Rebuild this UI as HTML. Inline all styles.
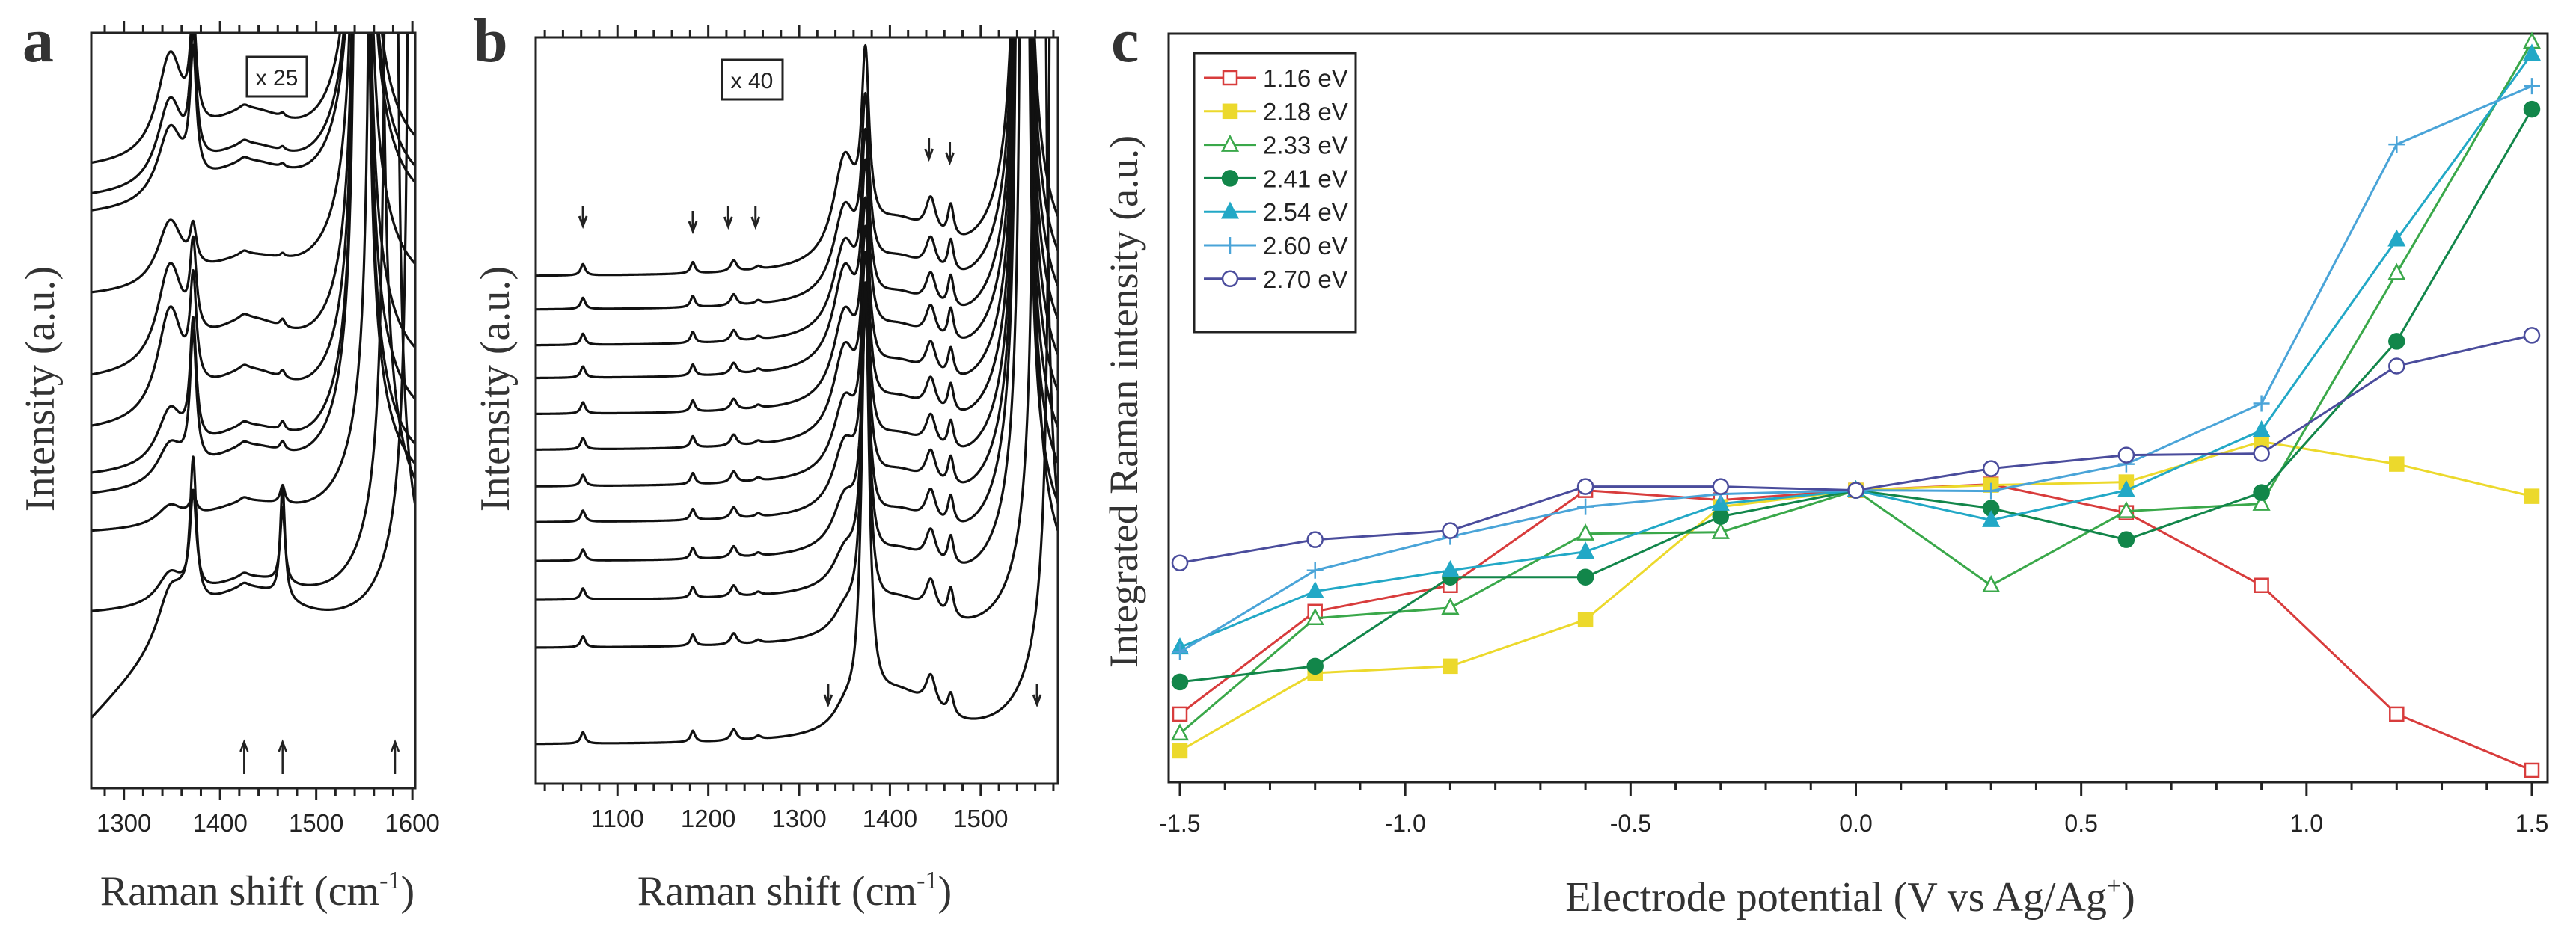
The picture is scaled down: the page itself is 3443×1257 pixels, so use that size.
<!DOCTYPE html>
<html><head><meta charset="utf-8"><style>
html,body{margin:0;padding:0;background:#fff;}
svg{display:block;}
.t{font-family:"Liberation Serif",serif;fill:#333;}
.s{font-family:"Liberation Sans",sans-serif;fill:#222;}
</style></head><body>
<svg id="fig" width="3443" height="1257" viewBox="0 0 3443 1257" xmlns="http://www.w3.org/2000/svg">
<text class="t" x="30" y="82" font-size="84" font-weight="bold" fill="#111">a</text>
<text class="t" x="632" y="82" font-size="84" font-weight="bold" fill="#111">b</text>
<text class="t" x="1485" y="82" font-size="84" font-weight="bold" fill="#111">c</text>
<text class="t" transform="translate(72,520) rotate(-90)" text-anchor="middle" font-size="56">Intensity (a.u.)</text>
<text class="t" transform="translate(680,520) rotate(-90)" text-anchor="middle" font-size="56">Intensity (a.u.)</text>
<text class="t" transform="translate(1520,537) rotate(-90)" text-anchor="middle" font-size="54">Integrated Raman intensity (a.u.)</text>
<text class="t" x="344" y="1210" text-anchor="middle" font-size="56">Raman shift (cm<tspan font-size="34" dy="-22">-1</tspan><tspan dy="22">)</tspan></text>
<text class="t" x="1062" y="1210" text-anchor="middle" font-size="56">Raman shift (cm<tspan font-size="34" dy="-22">-1</tspan><tspan dy="22">)</tspan></text>
<text class="t" x="2473" y="1218" text-anchor="middle" font-size="56">Electrode potential (V vs Ag/Ag<tspan font-size="34" dy="-22">+</tspan><tspan dy="22">)</tspan></text>
<g id="ga"></g><g id="gb"></g><g id="gc"></g>
</svg>
<script>
// ---------- Panel c data ----------
const potentials = [-1.5,-1.2,-0.9,-0.6,-0.3,0,0.3,0.6,0.9,1.2,1.5];
const seriesNames = ["1.16 eV","2.18 eV","2.33 eV","2.41 eV","2.54 eV","2.60 eV","2.70 eV"];
const s116 = [9.1,22.8,26.3,39.0,37.7,39.0,39.8,36.0,26.3,9.1,1.6];
const s218 = [4.2,14.6,15.5,21.7,36.8,39.0,39.7,40.1,45.5,42.5,38.2];
const s233 = [6.5,21.9,23.3,33.2,33.4,39.0,26.3,36.2,37.2,68.0,98.9];
const s241 = [13.4,15.5,27.4,27.4,35.5,39.0,36.6,32.4,38.7,58.9,89.9];
const s254 = [18.0,25.5,28.3,30.8,37.2,39.0,35.0,39.0,47.0,72.5,97.3];
const s260 = [17.4,28.3,32.8,36.8,38.5,39.0,38.9,42.5,50.6,85.2,93.0];
const s270 = [29.3,32.4,33.6,39.5,39.5,39.0,41.9,43.7,43.9,55.6,59.7];
const cTicks = [-1.5,-1.0,-0.5,0.0,0.5,1.0,1.5];
const cTickLabels = ["-1.5","-1.0","-0.5","0.0","0.5","1.0","1.5"];

// ---------- Panel a data (per-trace peak parameters, a.u.) ----------
const aOffset = [81.3,77.4,75.2,64.6,53.2,46.4,40.6,38.0,33.4,22.6,8.2];
const aBroad  = [13,11,9.5,8.5,13,14,7,5,2.5,4,6];
const aSharp  = [14,16,16.5,5,11.5,13.5,16,17.5,2.5,13,19];
const aPlateau= [7,6.3,6.3,4.6,7.4,7.4,6,6,3.6,4.4,6.2];
const a1465   = [0.5,0.5,0.5,0.5,1.0,1.0,1.2,1.2,2.4,10,15];
const aEdge   = [1547,1547,1547,1547,1547,1547,1547,1547,1562,1578,1602];
const aTicks = [1300,1400,1500,1600];

// ---------- Panel b data ----------
const bOffset = [67.9,63.4,58.6,54.2,49.4,44.6,39.7,34.9,29.7,24.5,18.1,5.2];
const bBroad  = [13,11,11,12,11,11,9,8,6,4,2.5,2];
const bSharp  = [23,22,22,22,22,23,25,26,28,34,42,57];
const bPlateau= [6,5.5,5.5,5.5,5.5,5.5,5.5,5.5,5.5,5.5,5.5,6];
const b1445   = [5,4.5,4.5,4.5,4.5,4.5,4.5,4.5,4.5,4.5,4.5,4.5];
const b1467   = [4.5,4.5,4.5,4.5,4,4,4,4,4,4,4,3];
const bEdge   = [1546,1546,1546,1546,1546,1546,1546,1546,1546,1550,1565,1582];
const bSmall  = [1.5,1.5,1.5,1.5,1.5,1.5,1.5,1.5,1.5,1.5,1.5,1.5];
const bTicks = [1100,1200,1300,1400,1500];

const NS="http://www.w3.org/2000/svg";
function mk(tag,parent,attrs){const e=document.createElementNS(NS,tag);for(const k in attrs)e.setAttribute(k,attrs[k]);parent.appendChild(e);return e;}
function lor(x,c,w){return w*w/((x-c)*(x-c)+w*w);}
function edge(x,c){return 1500*lor(x,c,1.5)+16*lor(x,c,28);}

function frame(g,x0,x1,y0,y1,name){
  const r=mk('rect',g,{x:x0,y:y0,width:x1-x0,height:y1-y0,fill:'none',stroke:'#222','stroke-width':3});
  
  
}

function specPanel(gid,pfx,x0,x1,y0,y1,xmin,xmax,ticks,n,fn){
  const g=document.getElementById(gid);
  const sx=v=>x0+(v-xmin)/(xmax-xmin)*(x1-x0);
  const sy=v=>y1-v*(y1-y0)/100;
  const clip=mk('clipPath',g,{id:gid+'clip'});
  mk('rect',clip,{x:x0,y:y0,width:x1-x0,height:y1-y0});
  const lines=mk('g',g,{'clip-path':'url(#'+gid+'clip)'});
  for(let i=0;i<n;i++){
    let d='';
    for(let x=xmin;x<=xmax;x+=0.5){
      let v=fn(i,x); if(v>110)v=110;
      d+=(x===xmin?'M':'L')+sx(x).toFixed(1)+','+sy(v).toFixed(1);
    }
    const p=mk('path',lines,{d:d,fill:'none',stroke:'#111','stroke-width':3.2,'stroke-linejoin':'round'});
    
    
  }
  frame(g,x0,x1,y0,y1,pfx+'-frame');
  const start=Math.ceil(xmin/20)*20;
  for(let t=start;t<=xmax;t+=20){
    const maj=t%100===0, L=maj?16:10;
    mk('line',g,{x1:sx(t),x2:sx(t),y1:y1,y2:y1+L,stroke:'#222','stroke-width':3});
    mk('line',g,{x1:sx(t),x2:sx(t),y1:y0,y2:y0-L,stroke:'#222','stroke-width':3});
  }
  ticks.forEach(t=>{
    const tx=mk('text',g,{x:sx(t),y:y1+58,'text-anchor':'middle','font-size':33,class:'s'});
    tx.textContent=t;
    
    
  });
  return {g,sx,sy};
}

// Panel a
const A=specPanel('ga','panel-a',122,555,44,1054,1266,1603,aTicks,aOffset.length,(i,x)=>{
  let v=aOffset[i]+aBroad[i]*lor(x,1348,16)+aSharp[i]*lor(x,1372,4)
   +aPlateau[i]*lor(x,1430,60)+a1465[i]*lor(x,1465,3)+0.6*lor(x,1425,6)
   +edge(x,aEdge[i]);
  if(i===aOffset.length-1) v+= (x<1360? (x-1266)*0.12:11.3);
  return v;
});
(function(){
  const g=A.g;
  const r=mk('rect',g,{x:330,y:76,width:80,height:53,fill:'#fff',stroke:'#222','stroke-width':3});
  
  const t=mk('text',g,{x:370,y:114,'text-anchor':'middle','font-size':30,class:'s'});t.textContent='x 25';
  
  [1425,1465,1582].forEach(v=>{
    const a=mk('path',g,{d:`M${A.sx(v)},1035 L${A.sx(v)},995 M${A.sx(v)-5},1005 L${A.sx(v)},992 L${A.sx(v)+5},1005`,stroke:'#222','stroke-width':2.5,fill:'none'});
    
  });
})();

// Panel b
const B=specPanel('gb','panel-b',716,1414,50,1048,1010,1585,bTicks,bOffset.length,(i,x)=>{
  let v=bOffset[i]+bSmall[i]*(lor(x,1062,3)+lor(x,1183,3)+lor(x,1228,4)+0.3*lor(x,1255,4))
   +bBroad[i]*lor(x,1350,15)+bSharp[i]*lor(x,1373,5)+bPlateau[i]*lor(x,1410,45)
   +b1445[i]*lor(x,1445,7)+b1467[i]*lor(x,1467,4)+edge(x,bEdge[i]);
  return v;
});
(function(){
  const g=B.g;
  const r=mk('rect',g,{x:965,y:80,width:81,height:53,fill:'#fff',stroke:'#222','stroke-width':3});
  
  const t=mk('text',g,{x:1005,y:118,'text-anchor':'middle','font-size':30,class:'s'});t.textContent='x 40';
  
  [[1062,275],[1183,282],[1222,276],[1252,276],[1443,185],[1466,190],[1332,915],[1562,915]].forEach(p=>{
    const x=B.sx(p[0]),y=p[1];
    const a=mk('path',g,{d:`M${x},${y} L${x},${y+25} M${x-5},${y+14} L${x},${y+27} L${x+5},${y+14}`,stroke:'#222','stroke-width':3,fill:'none'});
    
  });
})();

// Panel c
(function(){
  const g=document.getElementById('gc');
  const x0=1562,x1=3405,y0=45,y1=1046;
  const sx=v=>1577+(v+1.5)/3*(3384-1577);
  const sy=v=>y1-v*(y1-y0)/100;
  frame(g,x0,x1,y0,y1,'panel-c-frame');
  for(let k=-15;k<=15;k++){
    const v=k/10,maj=k%5===0;
    mk('line',g,{x1:sx(v),x2:sx(v),y1:y1,y2:y1+(maj?18:11),stroke:'#222','stroke-width':3});
  }
  cTicks.forEach((t,i)=>{
    const tx=mk('text',g,{x:sx(t),y:1112,'text-anchor':'middle','font-size':32,class:'s'});
    tx.textContent=cTickLabels[i];
    
    
  });
  const data=[s116,s218,s233,s241,s254,s260,s270];
  const colors=['#d83c3c','#ecd92c','#3aa84a','#12864a','#22a8c6','#4aa4d8','#4a4c9c'];
  const marks=['sqo','sqf','tro','cif','trf','plus','cio'];
  function marker(p,type,x,y,c,nm){
    let e;
    const r=9;
    if(type==='sqo'||type==='sqf') e=mk('rect',p,{x:x-r,y:y-r,width:2*r,height:2*r,fill:type==='sqf'?c:'#fff',stroke:c,'stroke-width':2.5});
    else if(type==='tro'||type==='trf') e=mk('path',p,{d:`M${x},${y-11} L${x+10},${y+8} L${x-10},${y+8}Z`,fill:type==='trf'?c:'#fff',stroke:c,'stroke-width':2.5});
    else if(type==='cif'||type==='cio') e=mk('circle',p,{cx:x,cy:y,r:10,fill:type==='cif'?c:'#fff',stroke:c,'stroke-width':2.5});
    else e=mk('path',p,{d:`M${x-11},${y} L${x+11},${y} M${x},${y-11} L${x},${y+11}`,stroke:c,'stroke-width':2.5});
    
    
  }
  data.forEach((arr,si)=>{
    const sg=mk('g',g,{});
    
    
    const pts=arr.map((v,i)=>sx(potentials[i]).toFixed(1)+','+sy(v).toFixed(1)).join(' ');
    const pl=mk('polyline',sg,{points:pts,fill:'none',stroke:colors[si],'stroke-width':3});
    
    
    arr.forEach((v,i)=>marker(sg,marks[si],sx(potentials[i]),sy(v),colors[si],'data-point'));
  });
  const lg=mk('g',g,{});
  
  
  const lb=mk('rect',lg,{x:1596,y:71,width:216,height:373,fill:'#fff',stroke:'#222','stroke-width':3});
  
  seriesNames.forEach((n,i)=>{
    const y=104+i*44.8;
    const eg=mk('g',lg,{});
    
    
    mk('line',eg,{x1:1609,x2:1679,y1:y,y2:y,stroke:colors[i],'stroke-width':3});
    marker(eg,marks[i],1644,y,colors[i],'legend-marker');
    const t=mk('text',eg,{x:1688,y:y+12,'font-size':33,class:'s'});
    t.textContent=n;
    
    
  });
})();
</script>
</body></html>
